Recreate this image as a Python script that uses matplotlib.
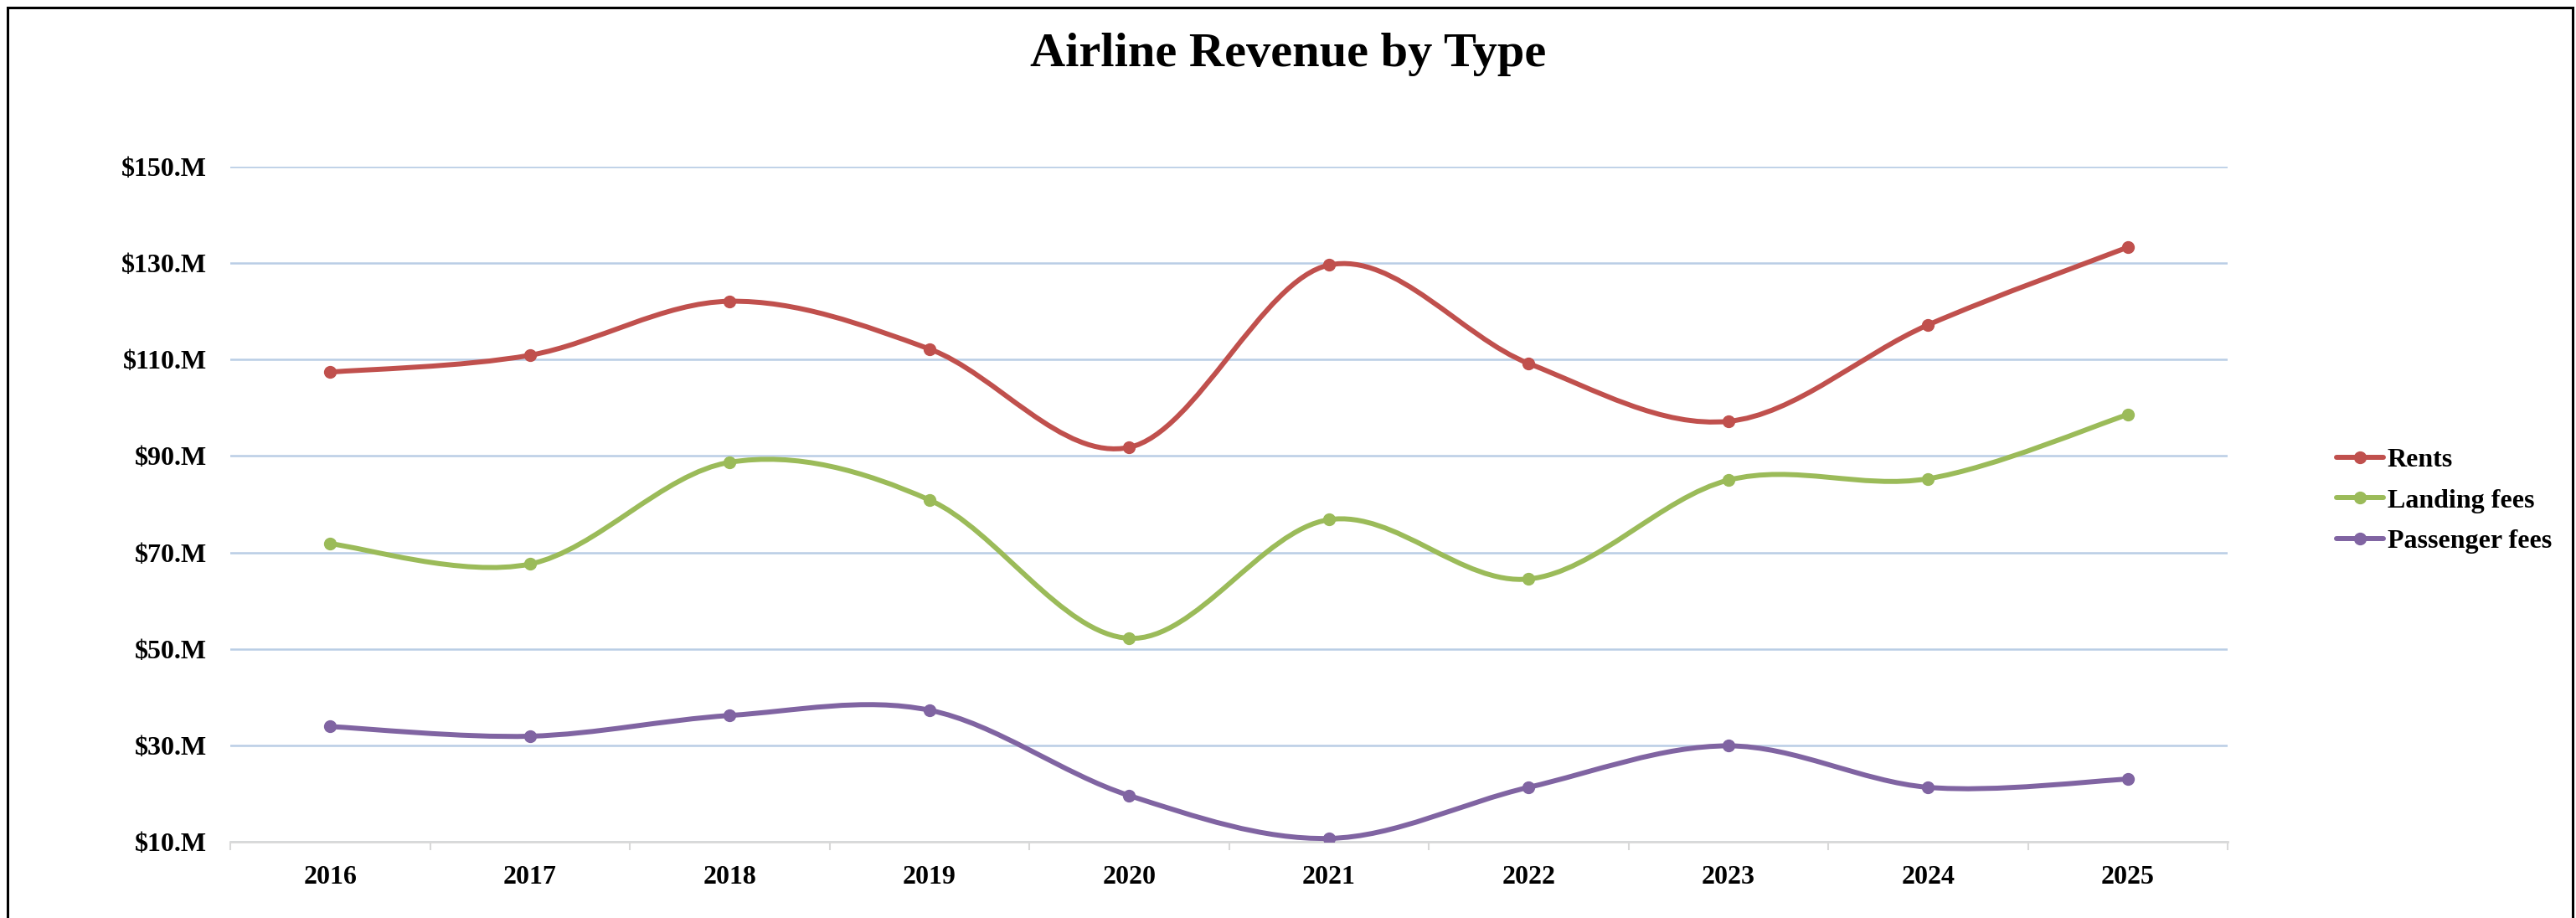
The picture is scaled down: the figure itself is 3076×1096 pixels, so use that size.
import matplotlib
matplotlib.use("Agg")
import matplotlib.pyplot as plt
from matplotlib.path import Path
from matplotlib.patches import PathPatch, Rectangle
from matplotlib.lines import Line2D

plt.rcParams['font.family'] = ['Liberation Serif', 'DejaVu Serif']
plt.rcParams['font.weight'] = 'bold'

years = ['2016', '2017', '2018', '2019', '2020', '2021', '2022', '2023', '2024', '2025']
rents = [107.4, 110.9, 122.1, 112.2, 91.8, 129.6, 109.2, 97.2, 117.2, 133.3]
landing_fees = [71.8, 67.6, 88.7, 80.9, 52.2, 76.8, 64.5, 85.0, 85.3, 98.6]
passenger_fees = [33.9, 31.9, 36.2, 37.3, 19.6, 10.7, 21.3, 29.9, 21.3, 23.0]
series_names = ['Rents', 'Landing fees', 'Passenger fees']
colors = ['#C0504D', '#9BBB59', '#8064A2']
y_ticks = [10, 30, 50, 70, 90, 110, 130, 150]


def smooth_path(xs, ys):
    # excel-like smoothed line: cubic bezier segments (catmull-rom style)
    pts = list(zip(xs, ys))
    n = len(pts)
    verts = [pts[0]]
    codes = [Path.MOVETO]
    for i in range(n - 1):
        p0 = pts[i - 1] if i > 0 else pts[i]
        p1 = pts[i]
        p2 = pts[i + 1]
        p3 = pts[i + 2] if i + 2 < n else pts[i + 1]
        c1 = (p1[0] + (p2[0] - p0[0]) / 6, p1[1] + (p2[1] - p0[1]) / 6)
        c2 = (p2[0] - (p3[0] - p1[0]) / 6, p2[1] - (p3[1] - p1[1]) / 6)
        verts += [c1, c2, p2]
        codes += [Path.CURVE4] * 3
    return Path(verts, codes)


fig = plt.figure(figsize=(30.76, 10.96), dpi=100)
ax = fig.add_axes([0.0894, 0.083, 0.7754, 0.7354])

x = list(range(len(years)))
for vals, c in zip([rents, landing_fees, passenger_fees], colors):
    ax.add_patch(PathPatch(smooth_path(x, vals), fill=False, edgecolor=c,
                           linewidth=4.3, capstyle='round', zorder=3))
    ax.plot(x, vals, linestyle='none', marker='o', markersize=10,
            color=c, zorder=4)

ax.set_xlim(-0.5, len(years) - 0.5)
ax.set_ylim(10, 150)
ax.set_yticks(y_ticks)
ax.set_yticklabels(['$%d.M' % v for v in y_ticks])
ax.set_xticks(x)
ax.set_xticklabels(years)
ax.set_xticks([i - 0.5 for i in range(len(years) + 1)], minor=True)

ax.tick_params(axis='y', length=0, pad=20, labelsize=23)
ax.tick_params(axis='x', which='major', length=0, pad=20, labelsize=23)
ax.tick_params(axis='x', which='minor', length=7, width=1.5, color='#D9D9D9')

ax.grid(axis='y', color='#B9CDE5', linewidth=1.8, zorder=0)
ax.set_axisbelow(True)
for s in ['top', 'right', 'left']:
    ax.spines[s].set_visible(False)
ax.spines['bottom'].set_color('#D9D9D9')
ax.spines['bottom'].set_linewidth(2)
ax.spines['bottom'].set_zorder(1)

fig.text(0.5, 0.9407, 'Airline Revenue by Type', ha='center', va='center',
         fontsize=42, fontweight='bold')

handles = [Line2D([], [], color=c, linewidth=4.3, marker='o', markersize=10,
                  solid_capstyle='round') for c in colors]
fig.legend(handles, series_names, loc='center left',
           bbox_to_anchor=(0.907, 0.4544), bbox_transform=fig.transFigure,
           frameon=False, fontsize=23, handlelength=1.75, handletextpad=0.15,
           labelspacing=0.6, borderpad=0, borderaxespad=0)

fig.patches.append(Rectangle((9 / 3076, -0.01), (3072 - 9) / 3076, 1.01 - 9 / 1096,
                             transform=fig.transFigure, fill=False,
                             edgecolor='black', linewidth=2.2))

fig.savefig('out.png', dpi=100)
